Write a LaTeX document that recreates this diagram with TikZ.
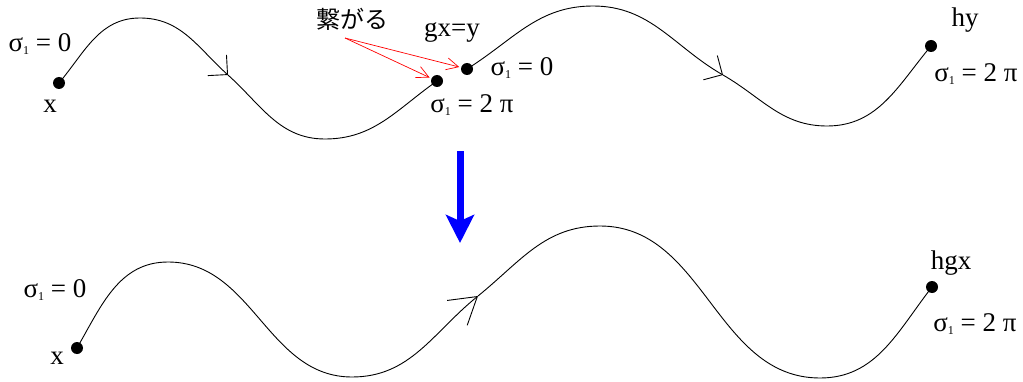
\documentclass[tikz,border=0pt]{standalone}
\usepackage{fontspec}
\setmainfont{Liberation Serif}
\newfontfamily\jpfont{Noto Sans CJK JP}
\usetikzlibrary{arrows.meta}
\newcommand{\sigone}{σ\raisebox{-3pt}{\fontsize{12}{12}\selectfont 1}}

\tikzset{
  dot/.style={circle,fill,inner sep=0pt,minimum size=12pt},
  lbl/.style={anchor=base,inner sep=0pt,font=\fontsize{27}{30}\selectfont},
  wave/.style={line width=.9pt},
  flowtop/.style={-{Straight Barb[length=14pt,width=28pt]}},
  flowbot/.style={-{Straight Barb[length=26pt,width=32pt]}},
  link/.style={red,line width=.7pt,-{Straight Barb[length=12pt,width=12pt]}},
}

\begin{document}
\begin{tikzpicture}[x=1pt,y=1pt]
\useasboundingbox (0,0) rectangle (1023,381);
% upper row: two strands
\node[dot] (xa) at (59,298) {};
\node[dot] (gxa) at (437,300) {};
\node[dot] (gxb) at (467,312) {};
\node[dot] (hy) at (931,335) {};
\coordinate (pa) at (140,363);
\coordinate (aa) at (228,306);
\coordinate (ta) at (325,242);
\coordinate (pb) at (593,375);
\coordinate (ab) at (723,306);
\coordinate (tb) at (827,255);
\draw[wave,flowtop] (xa.center) to[out=50,in=180] (pa) to[out=0,in=138] (aa);
\draw[wave] (aa) to[out=-42,in=180] (ta) to[out=0,in=215] (gxa.center);
\draw[wave,flowtop] (gxb.center) to[out=32,in=180] (pb) to[out=0,in=150] (ab);
\draw[wave] (ab) to[out=-30,in=180] (tb) to[out=0,in=230] (hy.center);
\node[lbl] (sxa) at (40,329) {\sigone{} = 0};
\node[lbl] (lxa) at (50,268) {x};
\node[lbl] (lgx) at (452,344) {gx=y};
\node[lbl] (sgxb) at (522,305) {\sigone{} = 0};
\node[lbl] (sgxa) at (472,268) {\sigone{} = 2 π};
\node[lbl] (lhy) at (965,354) {hy};
\node[lbl] (shy) at (976,299) {\sigone{} = 2 π};
% joining note
\node[font=\jpfont\fontsize{24}{26}\selectfont,inner sep=0pt] (join) at (352,362) {繋がる};
\coordinate (jfoot) at (345,343);
\draw[link,shorten >=2pt] (jfoot) -- (gxa);
\draw[link,shorten >=8pt] (jfoot) -- (gxb.center);
% step arrow
\coordinate (stepa) at (460,230);
\coordinate (stepb) at (460,138);
\draw[blue,line width=7pt,-{Stealth[length=28pt,width=28pt,inset=6pt]}] (stepa) -- (stepb);
% lower row: joined strand
\node[dot] (xb) at (77,33) {};
\node[dot] (hgx) at (932,94) {};
\coordinate (pc) at (168,119);
\coordinate (tc) at (352,4);
\coordinate (ac) at (478,85);
\coordinate (pd) at (600,155);
\coordinate (td) at (820,3);
\draw[wave,flowbot] (xb.center) to[out=60,in=180] (pc) to[out=0,in=180] (tc) to[out=0,in=219] (ac);
\draw[wave] (ac) to[out=39,in=180] (pd) to[out=0,in=180] (td) to[out=0,in=232] (hgx.center);
\node[lbl] (sxb) at (55,84) {\sigone{} = 0};
\node[lbl] (lxb) at (57,17) {x};
\node[lbl] (lhgx) at (951,112) {hgx};
\node[lbl] (shgx) at (975,50) {\sigone{} = 2 π};
\end{tikzpicture}
\end{document}
